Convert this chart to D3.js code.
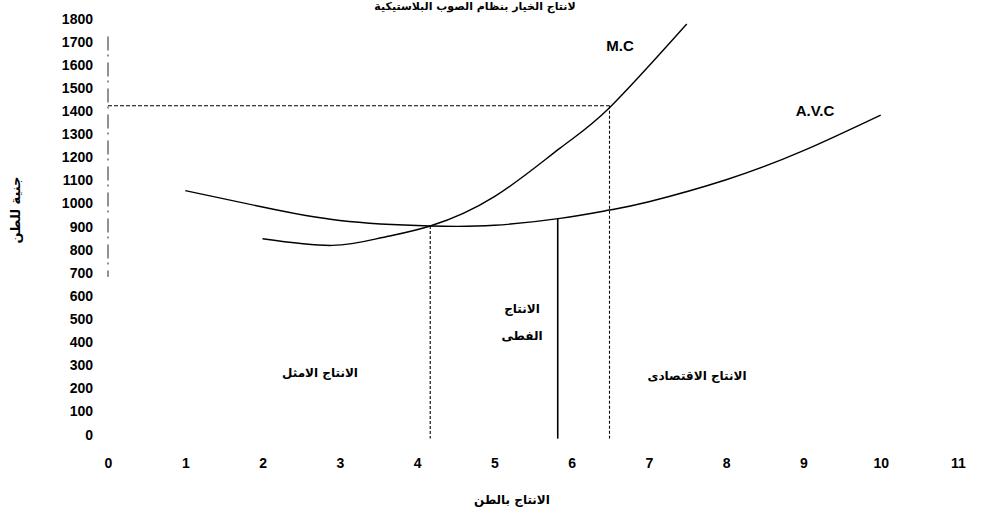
<!DOCTYPE html>
<html><head><meta charset="utf-8">
<script src="https://cdn.jsdelivr.net/npm/d3@7"></script>
<style>body{margin:0;background:#fff}svg{display:block}</style>
</head><body>
<svg id="c" width="982" height="521"></svg>
<script>
const xTicks = [0,1,2,3,4,5,6,7,8,9,10,11];
const yTicks = [0,100,200,300,400,500,600,700,800,900,1000,1100,1200,1300,1400,1500,1600,1700,1800];
const mcX = [2, 2.9, 3.55, 4.17, 5, 5.85, 6.49, 7.49];
const mcY = [845, 816, 850, 900, 1027, 1237, 1412, 1774];
const avcX = [1, 2, 3, 4.17, 5, 5.85, 6.49, 7, 8, 9, 10];
const avcY = [1053, 982, 924, 900, 903, 933, 969, 1005, 1100, 1226, 1380];
const optimumX = 4.17, actualX = 5.82, economicX = 6.49, priceY = 1420;
const title = "لانتاج الخيار بنظام الصوب البلاستيكية";
const xLabel = "الانتاج بالطن";
const yLabel = "جنية للطن";

const svg = d3.select("#c");
const x = d3.scaleLinear().domain([0, 11]).range([108, 958]);
const y = d3.scaleLinear().domain([0, 1800]).range([434, 18]);
const num = "'Liberation Sans', Arial, sans-serif";
const ar = "'DejaVu Sans', sans-serif";

// y tick labels
const yAxis = d3.axisLeft(y).tickValues(yTicks).tickFormat(d3.format("d")).tickSize(0).tickPadding(0);
const gy = svg.append("g").attr("transform", "translate(93,0)").call(yAxis);
gy.select(".domain").remove();
gy.selectAll("text").attr("font-family", num).attr("font-weight", "bold").attr("font-size", 14).attr("fill", "#000").attr("dy", "0.36em");

// x tick labels
const xAxis = d3.axisBottom(x).tickValues(xTicks).tickFormat(d3.format("d")).tickSize(0).tickPadding(0);
const gx = svg.append("g").attr("transform", "translate(0,457)").call(xAxis);
gx.select(".domain").remove();
gx.selectAll("text").attr("font-family", num).attr("font-weight", "bold").attr("font-size", 14).attr("fill", "#000").attr("dy", "0.75em");

// faint broken y axis line
svg.append("line").attr("x1", x(0)).attr("x2", x(0)).attr("y1", y(1720)).attr("y2", y(680))
  .attr("stroke", "#222").attr("stroke-width", 1).attr("stroke-dasharray", "14,4,2,6");

// reference lines
svg.append("line").attr("x1", x(0)).attr("x2", x(economicX)).attr("y1", y(priceY)).attr("y2", y(priceY))
  .attr("stroke", "#000").attr("stroke-width", 1.1).attr("stroke-dasharray", "4,2");
svg.append("line").attr("x1", x(economicX)).attr("x2", x(economicX)).attr("y1", y(priceY)).attr("y2", y(-20))
  .attr("stroke", "#000").attr("stroke-width", 1.1).attr("stroke-dasharray", "3,2");
svg.append("line").attr("x1", x(optimumX)).attr("x2", x(optimumX)).attr("y1", y(900)).attr("y2", y(-20))
  .attr("stroke", "#000").attr("stroke-width", 1.1).attr("stroke-dasharray", "3,2");
svg.append("line").attr("x1", x(actualX)).attr("x2", x(actualX)).attr("y1", y(933)).attr("y2", y(-20))
  .attr("stroke", "#000").attr("stroke-width", 1.6);

// curves
const line = d3.line().x(d => x(d[0])).y(d => y(d[1])).curve(d3.curveNatural);
svg.append("path").datum(mcX.map((v, i) => [v, mcY[i]])).attr("d", line)
  .attr("fill", "none").attr("stroke", "#000").attr("stroke-width", 1.4);
svg.append("path").datum(avcX.map((v, i) => [v, avcY[i]])).attr("d", line)
  .attr("fill", "none").attr("stroke", "#000").attr("stroke-width", 1.4);

// curve labels
svg.append("text").attr("x", 620).attr("y", 51).attr("text-anchor", "middle")
  .attr("font-family", num).attr("font-weight", "bold").attr("font-size", 15).text("M.C");
svg.append("text").attr("x", 815).attr("y", 116).attr("text-anchor", "middle")
  .attr("font-family", num).attr("font-weight", "bold").attr("font-size", 15).text("A.V.C");

// arabic texts
function arText(tx, ty, s, size) {
  svg.append("text").attr("x", tx).attr("y", ty).attr("text-anchor", "middle")
    .attr("direction", "rtl").attr("font-family", ar).attr("font-weight", "bold")
    .attr("font-size", size).text(s);
}
arText(475, 10, title, 11);
arText(512, 504, xLabel, 12);
arText(320, 377, "الانتاج الامثل", 12);
arText(522, 313, "الانتاج", 12);
arText(522, 340, "الفطى", 12);
arText(697, 380, "الانتاج الاقتصادى", 12);
svg.append("text").attr("transform", "translate(20,210) rotate(-90)").attr("text-anchor", "middle")
  .attr("direction", "rtl").attr("font-family", ar).attr("font-weight", "bold").attr("font-size", 13).text(yLabel);
</script>
</body></html>
